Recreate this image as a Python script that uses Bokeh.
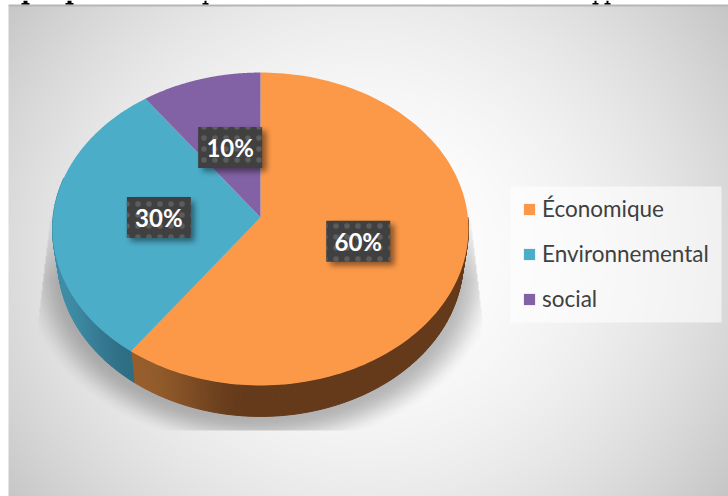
import numpy as np
from bokeh.core.properties import value
from bokeh.embed import file_html
from bokeh.models import ColumnDataSource, Legend, LegendItem, Range1d
from bokeh.plotting import figure
from bokeh.resources import INLINE

# Chart data
categories = ["Économique", "Environnemental", "social"]
shares = [60, 30, 10]
share_labels = ["60%", "30%", "10%"]
top_colors = ["#FC9949", "#4CADC9", "#8262A4"]

W, H = 728, 496
# Pie projection: apex position, radii and perspective strength
APEX_X, APEX_Y = 260.0, 217.0
RAD_X, RAD_Y = 207.4, 155.6
PERSP = 0.0734
DEPTH = 31.0
BASE_SCALE = 0.975
LABEL_RADIUS = 0.49


def flip(y):
    """Page pixels counted from the top to the plot's upward y axis."""
    return H - np.asarray(y, dtype=float)


def project(deg, radius=1.0):
    """Clockwise-from-top angle on the pie disc to page pixels."""
    a = np.radians(deg)
    u, v = radius * np.sin(a), radius * np.cos(a)
    w = 1 + PERSP * v
    return APEX_X + RAD_X * u / w, APEX_Y - RAD_Y * v / w


def smooth(t):
    t = np.clip(t, 0, 1)
    return t * t * (3 - 2 * t)


def blur(a, passes=3, k=5):
    kernel = np.ones(k) / k
    for _ in range(passes):
        a = np.apply_along_axis(lambda r: np.convolve(r, kernel, "same"), 0, a)
        a = np.apply_along_axis(lambda r: np.convolve(r, kernel, "same"), 1, a)
    return a


def to_rgba(r, g, b, a):
    img = np.zeros((H, W), dtype=np.uint32)
    view = img.view(dtype=np.uint8).reshape((H, W, 4))
    view[..., 0], view[..., 1], view[..., 2], view[..., 3] = r, g, b, a
    return img[::-1]


yy, xx = np.mgrid[0:H, 0:W].astype(float) + 0.5

# Panel background: radial fade from white to grey, with a darker top rule
rr2 = ((xx - 365) / 450) ** 2 + ((yy - 250) / 413) ** 2
grey = 255 - 57 * rr2
grey[(yy < 6)] = 182
grey[(xx < 8) | (yy < 4)] = 255
panel = np.clip(grey, 0, 255).astype(np.uint8)
panel_img = to_rgba(panel, panel, panel, 255)

# Soft cast shadow under the pie, cut off by its own bounding shape
rr = np.sqrt(((xx - 260) / 222) ** 2 + ((yy - 272) / 165) ** 2)
cast = 0.27 * (1 - smooth((rr - 0.88) / 0.2)) * np.clip((yy - 190) / 90, 0, 1)
cast = blur(cast, 1, 3)
side = np.clip((yy - 200) / 120, 0, 1) * 14
cast[(xx < 52 - side) | (xx > 468 + side) | (yy > 430)] = 0
cast_img = to_rgba(0, 0, 0, np.clip(cast * 255, 0, 255).astype(np.uint8))

# Wedge outlines from the shares
edges = np.cumsum([0] + shares) * 3.6
wedge_xs, wedge_ys = [], []
for start, stop in zip(edges[:-1], edges[1:]):
    t = np.linspace(start, stop, 160)
    x, y = project(t)
    wedge_xs.append([APEX_X, *x])
    wedge_ys.append(flip([APEX_Y, *y]))


def wall_color(i, x):
    # Shaded side wall: each visible wedge darkens towards the front of the disc
    if i == 0:
        f = smooth((x - edge_x) / 120)
        c0, c1 = (152, 95, 45), (100, 58, 27)
    elif i == 1:
        f = smooth((x - 52) / 80)
        c0, c1 = (64, 142, 168), (46, 110, 132)
    else:
        f, c0, c1 = 0, (90, 70, 115), (90, 70, 115)
    return "#%02x%02x%02x" % tuple(int(a + (b - a) * f) for a, b in zip(c0, c1))


edge_x = project(edges[1])[0]
wall_xs, wall_ys, wall_cs = [], [], []
steps = np.arange(90, 285, 1.0)
for a in steps:
    b = a + 1.0
    xa, ya = project(np.array([a, b]))
    xl = APEX_X + (xa - APEX_X) * BASE_SCALE
    yl = ya + DEPTH
    mid = (a + b) / 2
    idx = int(np.searchsorted(edges, mid) - 1)
    wall_xs.append([xa[0], xa[1], xl[1], xl[0]])
    wall_ys.append(flip([ya[0], ya[1], yl[1], yl[0]]))
    wall_cs.append(wall_color(idx, (xa[0] + xa[1]) / 2))

# Value label positions follow the middle of each wedge
mids = (edges[:-1] + edges[1:]) / 2
label_x, label_y = project(mids, LABEL_RADIUS)
BOX_W, BOX_H = 64, 41

# Soft drop shadow of the value boxes
box_mask = np.zeros((H, W))
for cx, cy in zip(label_x, label_y):
    box_mask[(np.abs(xx - cx - 4) < BOX_W / 2) & (np.abs(yy - cy - 4) < BOX_H / 2)] = 1
box_shadow = blur(box_mask, 2, 7) * 0.45
box_shadow_img = to_rgba(0, 0, 0, (box_shadow * 255).astype(np.uint8))

p = figure(width=W, height=H, x_range=Range1d(0, W), y_range=Range1d(0, H),
           x_axis_type=None, y_axis_type=None, toolbar_location=None,
           output_backend="svg", min_border=0, outline_line_color=None,
           border_fill_color="white", background_fill_color="white")
p.grid.visible = False

p.image_rgba(image=[panel_img], x=0, y=0, dw=W, dh=H)

# Descenders of the line of running text just above the panel
stem_x = [25, 69, 205, 595, 607]
stem_w = [4, 4, 2, 2, 2]
foot_w = [8, 8, 6, 6, 6]
p.quad(left=[a - b / 2 for a, b in zip(stem_x, stem_w)],
       right=[a + b / 2 for a, b in zip(stem_x, stem_w)],
       top=flip(0), bottom=flip(3), fill_color="black", line_color=None)
p.quad(left=[a - b / 2 for a, b in zip(stem_x, foot_w)],
       right=[a + b / 2 for a, b in zip(stem_x, foot_w)],
       top=flip(2.6), bottom=flip(4), fill_color="black", line_color=None)

p.image_rgba(image=[cast_img], x=0, y=0, dw=W, dh=H)
p.patches(wall_xs, wall_ys, fill_color=wall_cs, line_color=wall_cs, line_width=1)

wedges = p.patches("xs", "ys", fill_color="color", line_color=None,
                   source=ColumnDataSource(dict(xs=wedge_xs, ys=wedge_ys, color=top_colors)))

p.image_rgba(image=[box_shadow_img], x=0, y=0, dw=W, dh=H)
p.rect(x=label_x, y=flip(label_y), width=BOX_W, height=BOX_H, fill_color="#404040",
       line_color=None, hatch_pattern="dot", hatch_color="#5c5c5c", hatch_scale=11,
       hatch_weight=0.9)
p.text(x=label_x, y=flip(label_y), text=share_labels, text_color="white",
       text_font=value("Lato"), text_font_style="bold", text_font_size="24px",
       text_align="center", text_baseline="middle")

# Pale legend panel, wider than the entries it holds
p.quad(left=510, right=721, top=flip(186), bottom=flip(322),
       fill_color="white", fill_alpha=0.6, line_color=None)
legend = Legend(
    items=[LegendItem(label=c, renderers=[wedges], index=i) for i, c in enumerate(categories)],
    location=(522, H - 312), orientation="vertical", margin=0,
    spacing=18, label_height=20, glyph_height=14, glyph_width=14, label_standoff=6,
    background_fill_alpha=0, border_line_color=None,
    label_text_font="Lato", label_text_font_size="22.5px", label_text_color="#404040",
)
p.add_layout(legend, "center")

open("out.html", "w").write(file_html(p, INLINE))
